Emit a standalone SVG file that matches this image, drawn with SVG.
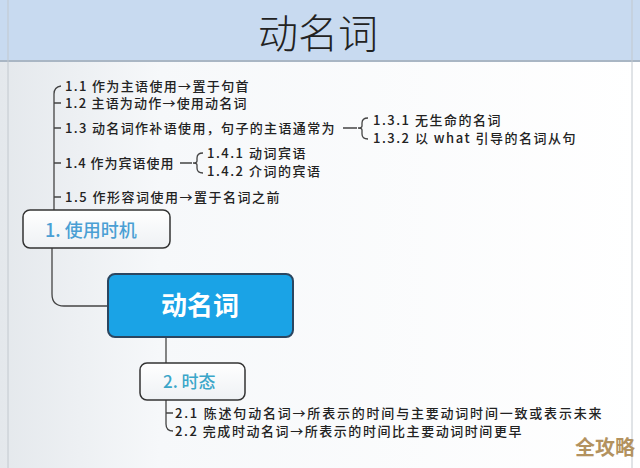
<svg xmlns="http://www.w3.org/2000/svg" width="640" height="468" viewBox="0 0 640 468">
<defs>
<linearGradient id="bg" x1="0" y1="0" x2="1" y2="0">
<stop offset="0" stop-color="#e4e8ec"/>
<stop offset="0.25" stop-color="#f6f8fa"/>
<stop offset="1" stop-color="#ffffff"/>
</linearGradient>
<linearGradient id="n1" x1="0" y1="0" x2="0" y2="1">
<stop offset="0" stop-color="#ffffff"/>
<stop offset="1" stop-color="#eef1f4"/>
</linearGradient>
<style>
.t{font-family:"Noto Sans CJK SC","Liberation Sans",sans-serif;font-size:13px;letter-spacing:1.5px;fill:#222;font-weight:500}
.ln{fill:none;stroke:#444;stroke-width:1.3}
</style>
</defs>
<rect x="0" y="0" width="640" height="468" fill="url(#bg)"/>
<rect x="0" y="0" width="640" height="61" fill="#c8daf0"/>
<line x1="0" y1="61" x2="640" y2="61" stroke="#a9b6c4" stroke-width="2"/>
<line x1="8" y1="0" x2="8" y2="468" stroke="#c2c8ce" stroke-width="1"/>
<line x1="632" y1="0" x2="632" y2="468" stroke="#c2c8ce" stroke-width="1"/>
<text x="318" y="48" text-anchor="middle" style="font-family:'Noto Sans CJK SC',sans-serif;font-size:40px;fill:#222;font-weight:300">动名词</text>

<g id="connectors">
<path class="ln" d="M61,86 Q54,87 54,94 L54,210"/>
<path class="ln" d="M54,103 H61 M54,128 H61 M54,163 H61 M54,197 H61"/>
<path class="ln" d="M343,128 H357 M368,118 Q362,118 362,123 L362,126 Q362,128 358,128 Q362,128 362,130 L362,134 Q362,139 368,139"/>
<path class="ln" d="M180,163 H192 M203,153 Q197,153 197,158 L197,161 Q197,163 193,163 Q197,163 197,165 L197,168 Q197,173 203,173"/>
<path class="ln" d="M52,248 L52,294 Q52,306 64,306 L108,306"/>
<path class="ln" d="M166,337 L166,363"/>
<path class="ln" d="M166,400 L166,424 Q166,431 173,431 M166,413 H173"/>
</g>

<g id="n11"><text class="t" x="65" y="90.5" textLength="185" lengthAdjust="spacing">1.1 作为主语使用→置于句首</text></g>
<g id="n12"><text class="t" x="65" y="108" textLength="183" lengthAdjust="spacing">1.2 主语为动作→使用动名词</text></g>
<g id="n13"><text class="t" x="65" y="133" textLength="271" lengthAdjust="spacing">1.3 动名词作补语使用，句子的主语通常为</text></g>
<g id="n131"><text class="t" x="373" y="125">1.3.1 无生命的名词</text></g>
<g id="n132"><text class="t" x="373" y="143">1.3.2 以 what 引导的名词从句</text></g>
<g id="n14"><text class="t" x="65" y="168" textLength="110" lengthAdjust="spacing">1.4 作为宾语使用</text></g>
<g id="n141"><text class="t" x="207" y="158">1.4.1 动词宾语</text></g>
<g id="n142"><text class="t" x="207" y="176">1.4.2 介词的宾语</text></g>
<g id="n15"><text class="t" x="65" y="202">1.5 作形容词使用→置于名词之前</text></g>

<g id="n1">
<rect x="23" y="210" width="147" height="38" rx="7" fill="url(#n1)" stroke="#333" stroke-width="1.5"/>
<text x="45" y="237" style="font-family:'Noto Sans CJK SC',sans-serif;font-size:18px;fill:#4a9fd4;font-weight:500">1. 使用时机</text>
</g>

<g id="center">
<rect x="108" y="274" width="185" height="63" rx="7" fill="#1aa3e6" stroke="#2b4660" stroke-width="2"/>
<text x="200" y="315" text-anchor="middle" style="font-family:'Noto Sans CJK SC',sans-serif;font-size:26px;fill:#ffffff;font-weight:700">动名词</text>
</g>

<g id="n2">
<rect x="140" y="363" width="105" height="37" rx="7" fill="url(#n1)" stroke="#333" stroke-width="1.5"/>
<text x="163" y="388" style="font-family:'Noto Sans CJK SC',sans-serif;font-size:17px;fill:#3aa6c9;font-weight:500">2. 时态</text>
</g>

<g id="n21"><text class="t" x="175" y="418" textLength="428" lengthAdjust="spacing">2.1 陈述句动名词→所表示的时间与主要动词时间一致或表示未来</text></g>
<g id="n22"><text class="t" x="175" y="436" textLength="348" lengthAdjust="spacing">2.2 完成时动名词→所表示的时间比主要动词时间更早</text></g>

<text x="575" y="455" style="font-family:'Noto Sans CJK SC',sans-serif;font-size:20px;fill:#b3925f;font-weight:700">全攻略</text>
</svg>
